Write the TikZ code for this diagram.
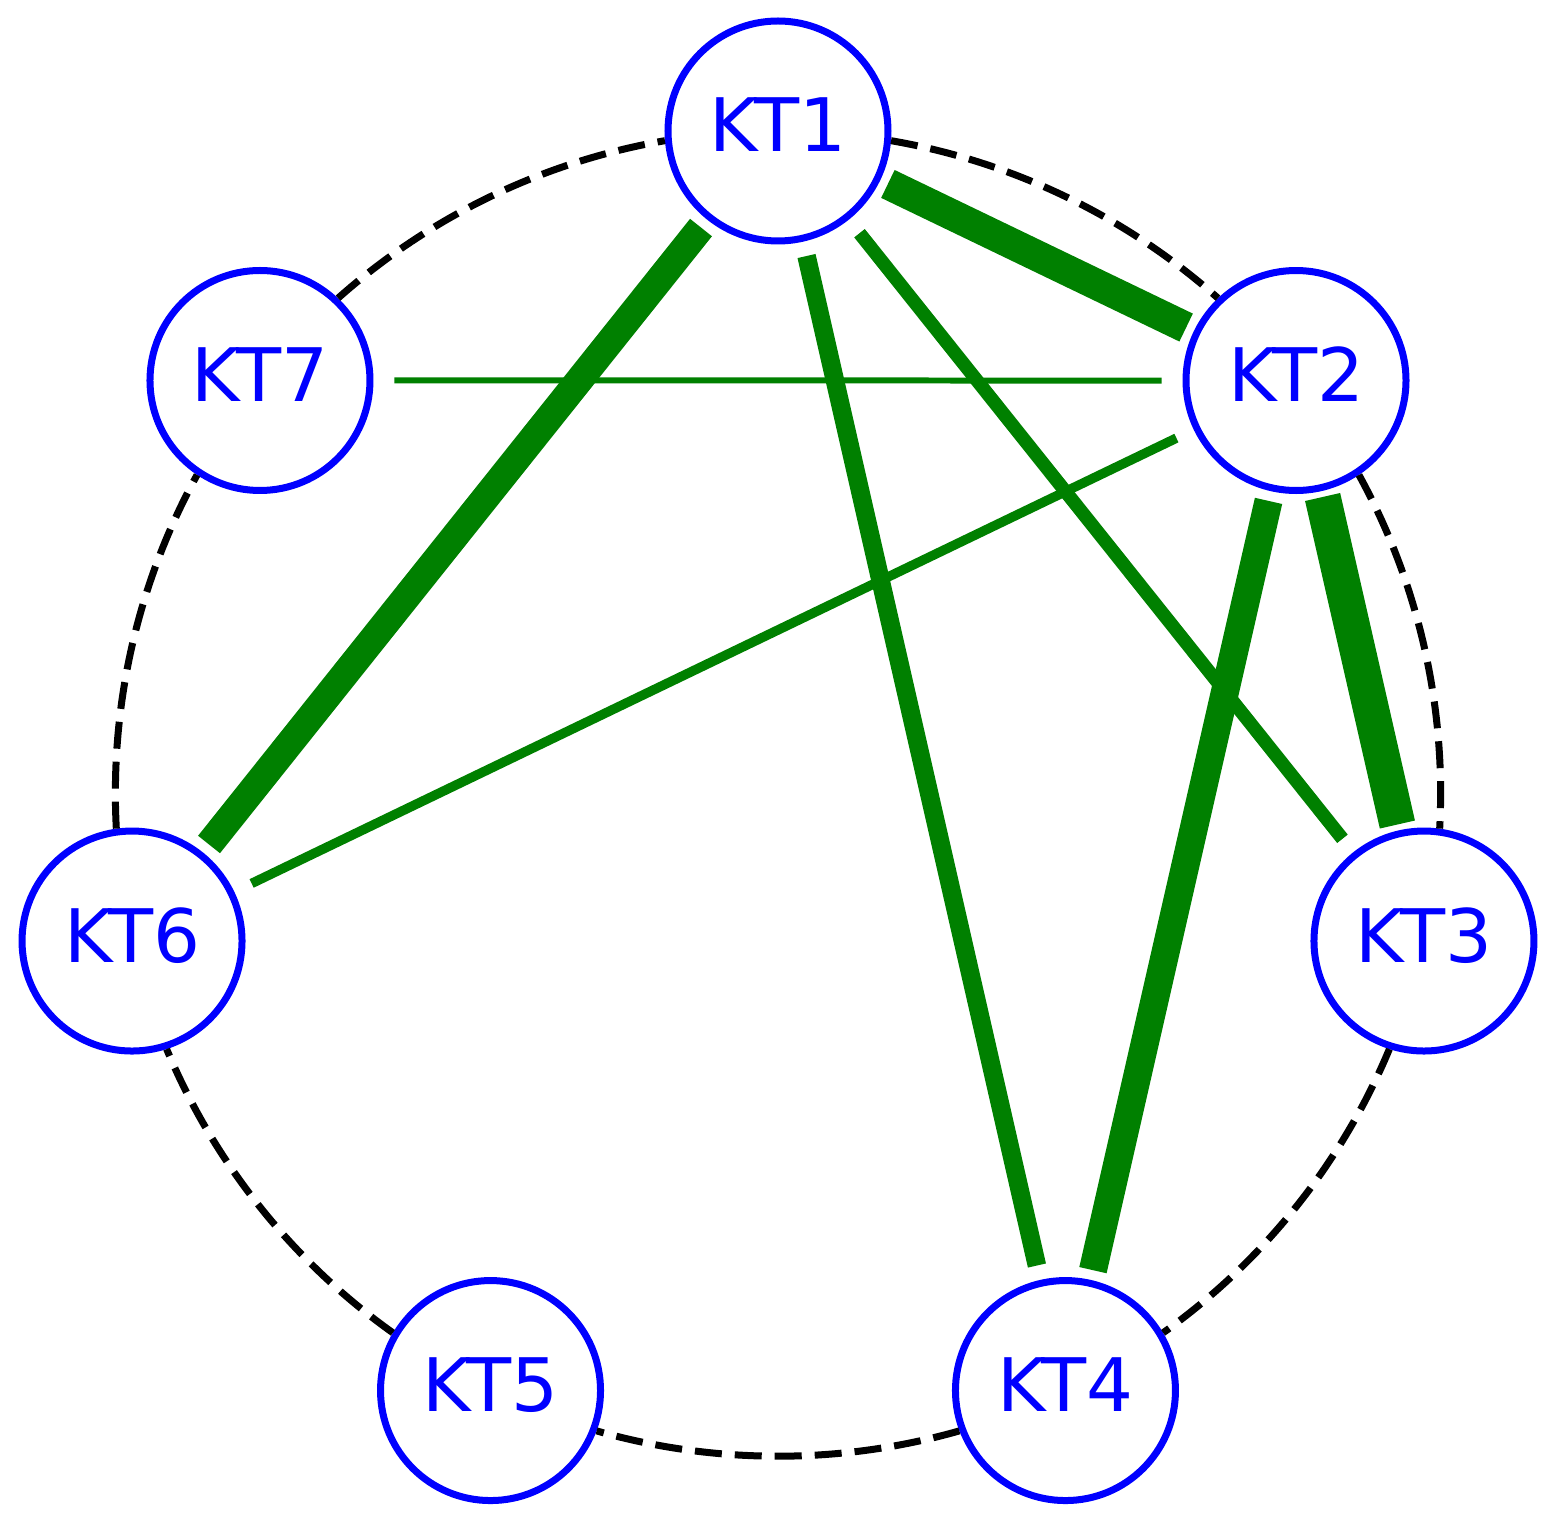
\documentclass[tikz,border=0pt]{standalone}
\usepackage{fontspec}
\setmainfont{DejaVu Sans}
\usetikzlibrary{calc}
\definecolor{ktblue}{RGB}{0,0,255}
\definecolor{ktgreen}{RGB}{0,128,0}

\begin{document}
\begin{tikzpicture}[
    kt/.style={circle, draw=ktblue, line width=0.07cm, minimum size=2.2cm, inner sep=0pt, text=ktblue, text depth=0.12cm, font=\fontsize{21pt}{25pt}\selectfont},
    ring/.style={black, line width=0.07cm, dash pattern=on 0.27cm off 0.13cm},
    link/.style={ktgreen, line cap=rect, shorten >=0.24cm, shorten <=0.24cm},
]
    \useasboundingbox (-7.78,-7.304) rectangle (7.78,7.936);

    % nodes on a circle, KT1 on top, clockwise
    \foreach \i in {1,...,7} {
        \pgfmathsetmacro\ang{90-(\i-1)*360/7}
        \node[kt] (kt\i) at (\ang:6.626) {K\kern-0.06em T\i};
    }

    % dashed ring between neighbours
    \foreach \i/\j in {1/2,2/3,3/4,4/5,5/6,6/7,7/1} {
        \pgfmathsetmacro\a{90-(\i-1)*360/7}
        \pgfmathsetmacro\b{\a-360/7}
        \pgfmathsetmacro\so{\a-99.8}
        \pgfmathsetmacro\si{\b+99.8}
        \draw[ring] ($(kt\i)+(\a-94.9:1.135)$) to[out=\so, in=\si, looseness=0.87] ($(kt\j)+(\b+94.9:1.135)$);
    }

    % weighted links
    \draw[link, line width=0.31cm] (kt1) -- (kt2);
    \draw[link, line width=0.28cm] (kt1) -- (kt6);
    \draw[link, line width=0.185cm] (kt1) -- (kt4);
    \draw[link, line width=0.135cm] (kt1) -- (kt3);
    \draw[link, line width=0.06cm] (kt7) -- (kt2);
    \draw[link, line width=0.095cm] (kt2) -- (kt6);
    \draw[link, line width=0.28cm] (kt2) -- (kt4);
    \draw[link, line width=0.36cm] (kt2) -- (kt3);
\end{tikzpicture}
\end{document}
